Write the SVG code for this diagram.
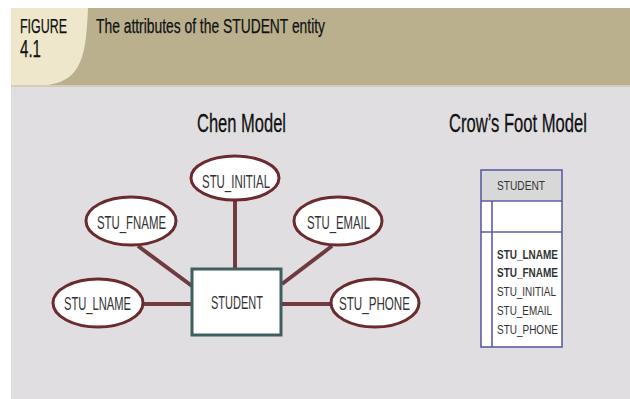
<svg xmlns="http://www.w3.org/2000/svg" width="630" height="399" viewBox="0 0 630 399">
  <style>
    .hd { font-family: "Liberation Sans", Arial, sans-serif; fill: #111; stroke: #111; stroke-width: 0.25; }
    .ttl { font-family: "Liberation Sans", Arial, sans-serif; font-size: 26px; fill: #111; stroke: #111; stroke-width: 0.3; }
    .attr { fill: #fff; stroke: #6b2b2e; stroke-width: 3; }
    .lbl { font-family: "Liberation Sans", Arial, sans-serif; font-size: 19px; fill: #333; }
    .conn line { stroke: #6e3b40; stroke-width: 4; }
    .cf { font-family: "Liberation Sans", Arial, sans-serif; font-size: 13px; fill: #333; }
    .tb { fill: none; stroke: #5c5ca8; stroke-width: 1.6; }
  </style>

  <!-- page -->
  <rect x="0" y="0" width="630" height="399" fill="#ffffff"/>
  <rect x="11" y="86" width="619" height="313" fill="#e1dee1"/>

  <!-- title band -->
  <g id="header">
    <rect x="11" y="8" width="619" height="78" fill="#bbb08e"/>
    <rect x="11" y="85" width="619" height="2" fill="#d3ccb8"/>
    <path d="M11,8 H88 C86,55 82,80 48,85 H11 Z" fill="#eee7cb"/>
    <text class="hd" x="20" y="33" font-size="20" textLength="47" lengthAdjust="spacingAndGlyphs">FIGURE</text>
    <text class="hd" x="20" y="57" font-size="23" textLength="21" lengthAdjust="spacingAndGlyphs">4.1</text>
    <text class="hd" x="96" y="33" font-size="20" textLength="229" lengthAdjust="spacingAndGlyphs">The attributes of the STUDENT entity</text>
  </g>

  <text class="ttl" x="197" y="132" textLength="89" lengthAdjust="spacingAndGlyphs">Chen Model</text>
  <text class="ttl" transform="translate(449,132) scale(0.66,1)" x="0" y="0" textLength="209" lengthAdjust="spacingAndGlyphs">Crow’s Foot Model</text>

  <!-- Chen model connectors -->
  <g id="connectors" class="conn">
    <line x1="235" y1="200" x2="235" y2="269"/>
    <line x1="138" y1="246" x2="192" y2="286"/>
    <line x1="332" y1="246" x2="282" y2="284"/>
    <line x1="143" y1="304" x2="192" y2="304"/>
    <line x1="282" y1="304" x2="331" y2="304"/>
  </g>

  <!-- Chen model entity -->
  <g id="student">
    <rect x="192" y="269" width="89" height="66" fill="#ffffff" stroke="#3f5e5e" stroke-width="3"/>
    <text class="lbl" x="211" y="309" textLength="52" lengthAdjust="spacingAndGlyphs">STUDENT</text>
  </g>

  <!-- Chen model attributes -->
  <g id="stu_initial">
    <ellipse class="attr" cx="235" cy="178" rx="44" ry="22"/>
    <text class="lbl" x="202" y="188" textLength="68" lengthAdjust="spacingAndGlyphs">STU_INITIAL</text>
  </g>
  <g id="stu_fname">
    <ellipse class="attr" cx="131" cy="221" rx="45" ry="24"/>
    <text class="lbl" x="97" y="229" textLength="69" lengthAdjust="spacingAndGlyphs">STU_FNAME</text>
  </g>
  <g id="stu_email">
    <ellipse class="attr" cx="338" cy="221" rx="44" ry="24"/>
    <text class="lbl" x="307" y="229" textLength="63" lengthAdjust="spacingAndGlyphs">STU_EMAIL</text>
  </g>
  <g id="stu_lname">
    <ellipse class="attr" cx="98" cy="303" rx="45" ry="24"/>
    <text class="lbl" x="64" y="310" textLength="67" lengthAdjust="spacingAndGlyphs">STU_LNAME</text>
  </g>
  <g id="stu_phone">
    <ellipse class="attr" cx="375" cy="303" rx="44" ry="24"/>
    <text class="lbl" x="339" y="310" textLength="71" lengthAdjust="spacingAndGlyphs">STU_PHONE</text>
  </g>

  <!-- Crow's Foot entity table -->
  <g id="cf_student">
    <rect x="481" y="170" width="81" height="31" fill="#d9d8d9"/>
    <rect x="481" y="201" width="81" height="146" fill="#ffffff"/>
    <rect class="tb" x="481" y="170" width="81" height="177"/>
    <line class="tb" x1="481" y1="201" x2="562" y2="201"/>
    <line class="tb" x1="481" y1="232" x2="562" y2="232"/>
    <line class="tb" x1="492" y1="201" x2="492" y2="347"/>
    <text class="cf" x="497" y="190" textLength="48" lengthAdjust="spacingAndGlyphs">STUDENT</text>
    <text class="cf" x="497" y="259" font-weight="bold" fill="#222" textLength="61" lengthAdjust="spacingAndGlyphs">STU_LNAME</text>
    <text class="cf" x="497" y="277" font-weight="bold" fill="#222" textLength="61" lengthAdjust="spacingAndGlyphs">STU_FNAME</text>
    <text class="cf" x="497" y="296" textLength="59" lengthAdjust="spacingAndGlyphs">STU_INITIAL</text>
    <text class="cf" x="497" y="315" textLength="55" lengthAdjust="spacingAndGlyphs">STU_EMAIL</text>
    <text class="cf" x="497" y="334" textLength="61" lengthAdjust="spacingAndGlyphs">STU_PHONE</text>
  </g>
</svg>
